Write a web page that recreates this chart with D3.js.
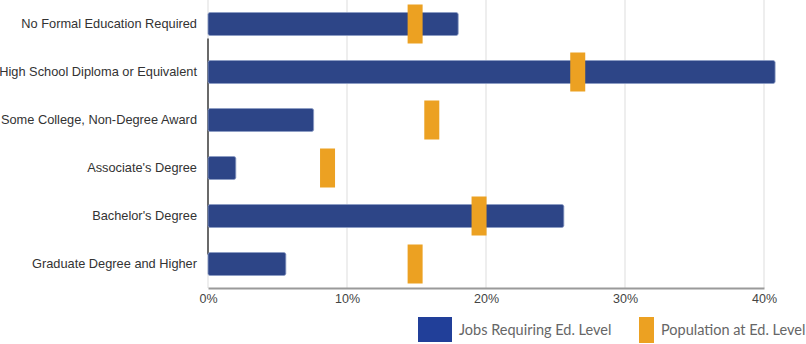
<!DOCTYPE html>
<html lang="en">
<head>
    <title>Education levels</title>
    <script src="https://d3js.org/d3.v7.min.js"></script>
    <style>
        body { margin: 0; background: #fff; }
        svg text { font-family: "Liberation Sans", Arial, sans-serif; }
        .legend text { font-family: Lato, sans-serif; font-size: 14.5px; fill: #666; }
    </style>
</head>
<body>
    <svg></svg>

    <script>
        var width = 806;
        var height = 344;
        var margins = { left: 208, right: 28, top: 0, bottom: 56 };

        var categories = ["No Formal Education Required", "High School Diploma or Equivalent",
            "Some College, Non-Degree Award", "Associate's Degree", "Bachelor's Degree",
            "Graduate Degree and Higher"];
        var jobsShare = [18.0, 40.8, 7.6, 2.0, 25.6, 5.6];
        var popShare = [14.9, 26.6, 16.1, 8.6, 19.5, 14.9];
        var xTicks = [0, 10, 20, 30, 40];
        var legendLabels = ["Jobs Requiring Ed. Level", "Population at Ed. Level"];

        var innerW = 764 - margins.left;
        var innerH = height - margins.top - margins.bottom;

        var xscale = d3.scaleLinear().domain([0, 40]).range([0, innerW]);
        var yscale = d3.scaleBand().domain(categories).range([0, innerH]);

        var svg = d3.select("svg").attr("width", width).attr("height", height);
        var g = svg.append("g").attr("transform", "translate(" + margins.left + "," + margins.top + ")");

        // gridlines
        g.selectAll(".grid").data(xTicks).enter().append("line")
            .attr("x1", function (d) { return xscale(d); })
            .attr("x2", function (d) { return xscale(d); })
            .attr("y1", 0).attr("y2", innerH)
            .attr("stroke", "#e3e3e3").attr("stroke-width", 1.2);

        // category axis line
        g.append("line")
            .attr("x1", 0).attr("x2", 0)
            .attr("y1", yscale(categories[0]) + yscale.bandwidth() * 0.8)
            .attr("y2", yscale(categories[5]) + yscale.bandwidth() * 0.3)
            .attr("stroke", "#222").attr("stroke-width", 1.3);

        // bottom axis
        var xaxis = d3.axisBottom(xscale).tickValues(xTicks)
            .tickFormat(function (d) { return d + "%"; }).tickSize(0).tickPadding(6);
        var ax = g.append("g").attr("transform", "translate(0," + innerH + ")").call(xaxis);
        ax.select(".domain").attr("stroke", "#9a9a9a").attr("stroke-width", 2);
        ax.selectAll("text").attr("fill", "#444").attr("font-size", 12.5)
            .style("font-family", "'Liberation Sans', Arial, sans-serif");

        // category labels
        g.selectAll(".cat").data(categories).enter().append("text")
            .attr("x", -11)
            .attr("y", function (d) { return yscale(d) + yscale.bandwidth() / 2; })
            .attr("dy", "0.35em")
            .attr("text-anchor", "end")
            .attr("font-size", 12.8)
            .attr("fill", "#333")
            .text(function (d) { return d; });

        // bars
        var barH = 23;
        g.selectAll(".bar").data(jobsShare).enter().append("rect")
            .attr("x", 0)
            .attr("y", function (d, i) { return yscale(categories[i]) + yscale.bandwidth() / 2 - barH / 2; })
            .attr("width", function (d) { return xscale(d); })
            .attr("height", barH)
            .attr("rx", 2)
            .attr("fill", "#2d4587")
            .attr("stroke", "#8c9cc4").attr("stroke-width", 0.8);

        // markers
        var mW = 15, mH = 39;
        g.selectAll(".mark").data(popShare).enter().append("rect")
            .attr("x", function (d) { return xscale(d) - mW / 2; })
            .attr("y", function (d, i) { return yscale(categories[i]) + yscale.bandwidth() / 2 - mH / 2; })
            .attr("width", mW)
            .attr("height", mH)
            .attr("fill", "#eca122");

        // legend
        var legend = svg.append("g").attr("class", "legend");
        legend.append("rect").attr("x", 418).attr("y", 317).attr("width", 34).attr("height", 25).attr("fill", "#213f99");
        legend.append("text").attr("x", 459).attr("y", 335).text(legendLabels[0]);
        legend.append("rect").attr("x", 639).attr("y", 317).attr("width", 15).attr("height", 26).attr("fill", "#eca122");
        legend.append("text").attr("x", 661).attr("y", 335).text(legendLabels[1]);
    </script>
</body>
</html>
